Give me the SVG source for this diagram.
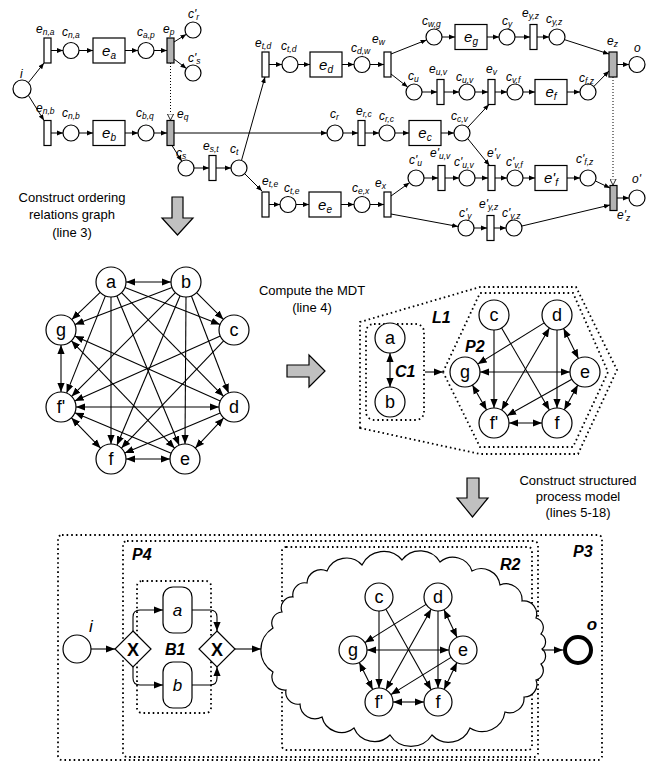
<svg xmlns="http://www.w3.org/2000/svg" width="660" height="763" viewBox="0 0 660 763">
<defs>
<style>
.p{fill:#fff;stroke:#000;stroke-width:1.2}
.tg{fill:#b3b3b3;stroke:#000;stroke-width:1.2}
.ln{fill:none;stroke:#000;stroke-width:1;marker-end:url(#as)}
.dl{fill:none;stroke:#000;stroke-width:1;stroke-dasharray:1 2;marker-end:url(#ot)}
.lb{font-family:"Liberation Sans",Arial,sans-serif;font-style:italic;font-size:12px}
.sb{font-size:8.5px}
.bx{font-family:"Liberation Sans",Arial,sans-serif;font-style:italic;font-size:15px;text-anchor:middle}
.bs{font-size:10px}
.nt{font-family:"Liberation Sans",Arial,sans-serif;font-size:18px;text-anchor:middle}
.gl{font-family:"Liberation Sans",Arial,sans-serif;font-weight:bold;font-style:italic;font-size:16px}
.cap{font-family:"Liberation Sans",Arial,sans-serif;font-size:13px;text-anchor:middle}
.dot{fill:none;stroke:#000;stroke-width:1.8;stroke-dasharray:1.6 3}
.arw{fill:#c0c0c0;stroke:#000;stroke-width:1.2}
.e{fill:none;stroke:#000;stroke-width:1.1;marker-end:url(#ah)}
.b{fill:none;stroke:#000;stroke-width:1.1;marker-end:url(#ah);marker-start:url(#ah)}
.tk{font-family:"Liberation Sans",Arial,sans-serif;font-style:italic;font-size:17px;text-anchor:middle}
</style>
<marker id="as" viewBox="0 0 10 10" refX="10" refY="5" markerWidth="6" markerHeight="6" markerUnits="userSpaceOnUse" orient="auto"><path d="M0,1 L10,5 L0,9 z"/></marker>
<marker id="ah" viewBox="0 0 10 10" refX="10" refY="5" markerWidth="9" markerHeight="9" markerUnits="userSpaceOnUse" orient="auto-start-reverse"><path d="M0,1 L10,5 L0,9 z"/></marker>
<marker id="ot" viewBox="0 0 10 10" refX="10" refY="5" markerWidth="7" markerHeight="7" markerUnits="userSpaceOnUse" orient="auto"><path d="M0.5,0.5 L9.5,5 L0.5,9.5 z" fill="#fff" stroke="#000" stroke-width="1.2"/></marker>
</defs>
<rect width="660" height="763" fill="#fff"/>

<!-- ===== Top Petri net ===== -->
<g id="net-connectors">
<path class="ln" d="M28.5,82.5 L44,63"/>
<path class="ln" d="M51,50.5 H63"/>
<path class="ln" d="M79,50.5 H93"/>
<path class="ln" d="M125,50.5 H138"/>
<path class="ln" d="M154,50.5 H167"/>
<path class="ln" d="M174,42 L186.3,34.3"/>
<path class="ln" d="M174,59 L186.4,68.5"/>
<path class="dl" d="M170.5,63 V120.5"/>
<path class="ln" d="M28.5,95.5 L44,120.5"/>
<path class="ln" d="M51,133 H63"/>
<path class="ln" d="M79,133 H93"/>
<path class="ln" d="M125,133 H138"/>
<path class="ln" d="M154,133 H167"/>
<path class="ln" d="M174,133 H327"/>
<path class="ln" d="M172,145.5 L181.8,161.2"/>
<path class="ln" d="M194,168 H209"/>
<path class="ln" d="M216,168 H231"/>
<path class="ln" d="M241.5,160.4 L265,77"/>
<path class="ln" d="M244.8,173.8 L262,191"/>
<path class="ln" d="M269,64.5 H282"/>
<path class="ln" d="M298,64.5 H310"/>
<path class="ln" d="M342,64.5 H354"/>
<path class="ln" d="M370,64.5 H384"/>
<path class="ln" d="M391,54 L426.6,39.9"/>
<path class="ln" d="M391,74 L407.7,87.1"/>
<path class="ln" d="M442,37 H455"/>
<path class="ln" d="M487,37 H499"/>
<path class="ln" d="M515,37 H530"/>
<path class="ln" d="M537,37 H549"/>
<path class="ln" d="M564.6,39.7 L609,54"/>
<path class="ln" d="M617,64.5 H629"/>
<path class="ln" d="M422,92 H437"/>
<path class="ln" d="M444,92 H459"/>
<path class="ln" d="M475,92 H488"/>
<path class="ln" d="M495,92 H507"/>
<path class="ln" d="M523,92 H535"/>
<path class="ln" d="M567,92 H580"/>
<path class="ln" d="M593.8,86.5 L609,71"/>
<path class="dl" d="M613,77 V185.5"/>
<path class="ln" d="M343,133 H358"/>
<path class="ln" d="M365,133 H379"/>
<path class="ln" d="M395,133 H409"/>
<path class="ln" d="M441,133 H454"/>
<path class="ln" d="M467.8,127.3 L489,104.5"/>
<path class="ln" d="M467.8,138.7 L489.5,165.5"/>
<path class="ln" d="M269,204.5 H280"/>
<path class="ln" d="M296,204.5 H309"/>
<path class="ln" d="M341,204.5 H354"/>
<path class="ln" d="M370,204.5 H384"/>
<path class="ln" d="M391,196 L409.5,182.7"/>
<path class="ln" d="M391,214 L458.1,226.5"/>
<path class="ln" d="M424,178 H438"/>
<path class="ln" d="M445,178 H459"/>
<path class="ln" d="M475,178 H488"/>
<path class="ln" d="M495,178 H507"/>
<path class="ln" d="M523,178 H535"/>
<path class="ln" d="M567,178 H580"/>
<path class="ln" d="M595.5,181 L610,188"/>
<path class="ln" d="M617,198 H629"/>
<path class="ln" d="M474,228 H487"/>
<path class="ln" d="M494,228 H506"/>
<path class="ln" d="M522,226 L610,205"/>
</g>

<g id="net-nodes">
<g id="p-i"><circle class="p" cx="22" cy="89" r="9"/><text class="lb" x="20" y="78">i</text></g>
<g id="t-ena"><rect class="p" x="44" y="38" width="7" height="25"/><text class="lb" x="36" y="33">e<tspan class="sb" dy="2">n,a</tspan></text></g>
<g id="p-cna"><circle class="p" cx="71" cy="50.5" r="8"/><text class="lb" x="62" y="36">c<tspan class="sb" dy="2">n,a</tspan></text></g>
<g id="b-ea"><rect class="p" x="93" y="38" width="32" height="25"/><text class="bx" x="109" y="56">e<tspan class="bs" dy="3">a</tspan></text></g>
<g id="p-cap"><circle class="p" cx="146" cy="50.5" r="8"/><text class="lb" x="137" y="36">c<tspan class="sb" dy="2">a,p</tspan></text></g>
<g id="t-ep"><rect class="tg" x="167" y="38" width="7" height="25"/><text class="lb" x="163" y="33">e<tspan class="sb" dy="2">p</tspan></text></g>
<g id="p-cr1"><circle class="p" cx="193" cy="30" r="8"/><text class="lb" x="188" y="18">c'<tspan class="sb" dy="2">r</tspan></text></g>
<g id="p-cs1"><circle class="p" cx="193" cy="73" r="8"/><text class="lb" x="188" y="62">c'<tspan class="sb" dy="2">s</tspan></text></g>

<g id="t-enb"><rect class="p" x="44" y="120.5" width="7" height="25"/><text class="lb" x="36" y="112">e<tspan class="sb" dy="2">n,b</tspan></text></g>
<g id="p-cnb"><circle class="p" cx="71" cy="133" r="8"/><text class="lb" x="62" y="117">c<tspan class="sb" dy="2">n,b</tspan></text></g>
<g id="b-eb"><rect class="p" x="93" y="120.5" width="32" height="25"/><text class="bx" x="109" y="138">e<tspan class="bs" dy="3">b</tspan></text></g>
<g id="p-cbq"><circle class="p" cx="146" cy="133" r="8"/><text class="lb" x="136" y="117">c<tspan class="sb" dy="2">b,q</tspan></text></g>
<g id="t-eq"><rect class="tg" x="167" y="120.5" width="7" height="25"/><text class="lb" x="177" y="118">e<tspan class="sb" dy="2">q</tspan></text></g>
<g id="p-cs"><circle class="p" cx="186" cy="168" r="8"/><text class="lb" x="176" y="157">c<tspan class="sb" dy="2">s</tspan></text></g>
<g id="t-est"><rect class="p" x="209" y="155.5" width="7" height="25"/><text class="lb" x="203" y="150">e<tspan class="sb" dy="2">s,t</tspan></text></g>
<g id="p-ct"><circle class="p" cx="239" cy="168" r="8"/><text class="lb" x="230" y="153">c<tspan class="sb" dy="2">t</tspan></text></g>

<g id="t-etd"><rect class="p" x="262" y="52" width="7" height="25"/><text class="lb" x="255" y="47">e<tspan class="sb" dy="2">t,d</tspan></text></g>
<g id="p-ctd"><circle class="p" cx="290" cy="64.5" r="8"/><text class="lb" x="281" y="50">c<tspan class="sb" dy="2">t,d</tspan></text></g>
<g id="b-ed"><rect class="p" x="310" y="52" width="32" height="25"/><text class="bx" x="326" y="70">e<tspan class="bs" dy="3">d</tspan></text></g>
<g id="p-cdw"><circle class="p" cx="362" cy="64.5" r="8"/><text class="lb" x="351" y="52">c<tspan class="sb" dy="2">d,w</tspan></text></g>
<g id="t-ew"><rect class="p" x="384" y="52" width="7" height="25"/><text class="lb" x="372" y="43">e<tspan class="sb" dy="2">w</tspan></text></g>
<g id="p-cwg"><circle class="p" cx="434" cy="37" r="8"/><text class="lb" x="422" y="25">c<tspan class="sb" dy="2">w,g</tspan></text></g>
<g id="b-eg"><rect class="p" x="455" y="24.5" width="32" height="25"/><text class="bx" x="471" y="42">e<tspan class="bs" dy="3">g</tspan></text></g>
<g id="p-cy"><circle class="p" cx="507" cy="37" r="8"/><text class="lb" x="502" y="25">c<tspan class="sb" dy="2">y</tspan></text></g>
<g id="t-eyz"><rect class="p" x="530" y="24.5" width="7" height="25"/><text class="lb" x="522" y="17">e<tspan class="sb" dy="2">y,z</tspan></text></g>
<g id="p-cyz"><circle class="p" cx="557" cy="37" r="8"/><text class="lb" x="546" y="23">c<tspan class="sb" dy="2">y,z</tspan></text></g>
<g id="t-ez"><rect class="tg" x="609" y="52" width="8" height="25"/><text class="lb" x="607" y="45">e<tspan class="sb" dy="2">z</tspan></text></g>
<g id="p-o"><circle class="p" cx="637" cy="64.5" r="8"/><text class="lb" x="634" y="52">o</text></g>

<g id="p-cu"><circle class="p" cx="414" cy="92" r="8"/><text class="lb" x="408" y="80">c<tspan class="sb" dy="2">u</tspan></text></g>
<g id="t-euv"><rect class="p" x="437" y="79.5" width="7" height="25"/><text class="lb" x="429" y="73">e<tspan class="sb" dy="2">u,v</tspan></text></g>
<g id="p-cuv"><circle class="p" cx="467" cy="92" r="8"/><text class="lb" x="456" y="81">c<tspan class="sb" dy="2">u,v</tspan></text></g>
<g id="t-ev"><rect class="p" x="488" y="79.5" width="7" height="25"/><text class="lb" x="486" y="73">e<tspan class="sb" dy="2">v</tspan></text></g>
<g id="p-cvf"><circle class="p" cx="515" cy="92" r="8"/><text class="lb" x="506" y="81">c<tspan class="sb" dy="2">v,f</tspan></text></g>
<g id="b-ef"><rect class="p" x="535" y="79.5" width="32" height="25"/><text class="bx" x="551" y="97">e<tspan class="bs" dy="3">f</tspan></text></g>
<g id="p-cfz"><circle class="p" cx="588" cy="92" r="8"/><text class="lb" x="579" y="82">c<tspan class="sb" dy="2">f,z</tspan></text></g>

<g id="p-cr"><circle class="p" cx="335" cy="133" r="8"/><text class="lb" x="330" y="118">c<tspan class="sb" dy="2">r</tspan></text></g>
<g id="t-erc"><rect class="p" x="358" y="120.5" width="7" height="25"/><text class="lb" x="356" y="115">e<tspan class="sb" dy="2">r,c</tspan></text></g>
<g id="p-crc"><circle class="p" cx="387" cy="133" r="8"/><text class="lb" x="379" y="120">c<tspan class="sb" dy="2">r,c</tspan></text></g>
<g id="b-ec"><rect class="p" x="409" y="120.5" width="32" height="25"/><text class="bx" x="425" y="138">e<tspan class="bs" dy="3">c</tspan></text></g>
<g id="p-ccv"><circle class="p" cx="462" cy="133" r="8"/><text class="lb" x="451" y="120">c<tspan class="sb" dy="2">c,v</tspan></text></g>

<g id="t-ete"><rect class="p" x="262" y="192" width="7" height="25"/><text class="lb" x="262" y="185">e<tspan class="sb" dy="2">t,e</tspan></text></g>
<g id="p-cte"><circle class="p" cx="288" cy="204.5" r="8"/><text class="lb" x="284" y="192">c<tspan class="sb" dy="2">t,e</tspan></text></g>
<g id="b-ee"><rect class="p" x="309" y="192" width="32" height="25"/><text class="bx" x="325" y="210">e<tspan class="bs" dy="3">e</tspan></text></g>
<g id="p-cex"><circle class="p" cx="362" cy="204.5" r="8"/><text class="lb" x="352" y="192">c<tspan class="sb" dy="2">e,x</tspan></text></g>
<g id="t-ex"><rect class="p" x="384" y="192" width="7" height="25"/><text class="lb" x="375" y="187">e<tspan class="sb" dy="2">x</tspan></text></g>

<g id="p-cu2"><circle class="p" cx="416" cy="178" r="8"/><text class="lb" x="409" y="164">c'<tspan class="sb" dy="2">u</tspan></text></g>
<g id="t-euv2"><rect class="p" x="438" y="165.5" width="7" height="25"/><text class="lb" x="430" y="157">e'<tspan class="sb" dy="2">u,v</tspan></text></g>
<g id="p-cuv2"><circle class="p" cx="467" cy="178" r="8"/><text class="lb" x="454" y="166">c'<tspan class="sb" dy="2">u,v</tspan></text></g>
<g id="t-ev2"><rect class="p" x="488" y="165.5" width="7" height="25"/><text class="lb" x="487" y="157">e'<tspan class="sb" dy="2">v</tspan></text></g>
<g id="p-cvf2"><circle class="p" cx="515" cy="178" r="8"/><text class="lb" x="506" y="166">c'<tspan class="sb" dy="2">v,f</tspan></text></g>
<g id="b-ef2"><rect class="p" x="535" y="165.5" width="32" height="25"/><text class="bx" x="551" y="183">e'<tspan class="bs" dy="3">f</tspan></text></g>
<g id="p-cfz2"><circle class="p" cx="588" cy="178" r="8"/><text class="lb" x="576" y="163">c'<tspan class="sb" dy="2">f,z</tspan></text></g>
<g id="t-ez2"><rect class="tg" x="610" y="185.5" width="7" height="25"/><text class="lb" x="617" y="219">e'<tspan class="sb" dy="2">z</tspan></text></g>
<g id="p-o2"><circle class="p" cx="637" cy="198" r="8"/><text class="lb" x="632" y="183">o'</text></g>
<g id="p-cy2"><circle class="p" cx="466" cy="228" r="8"/><text class="lb" x="459" y="217">c'<tspan class="sb" dy="2">y</tspan></text></g>
<g id="t-eyz2"><rect class="p" x="487" y="215.5" width="7" height="25"/><text class="lb" x="479" y="208">e'<tspan class="sb" dy="2">y,z</tspan></text></g>
<g id="p-cyz2"><circle class="p" cx="514" cy="228" r="8"/><text class="lb" x="502" y="217">c'<tspan class="sb" dy="2">y,z</tspan></text></g>
</g>

<!-- ===== Step arrows and captions ===== -->
<g id="step1">
<polygon class="arw" points="172,197 183,197 183,218 193,218 177.5,235 162,218 172,218"/>
<text class="cap" x="72" y="202">Construct ordering</text>
<text class="cap" x="72" y="219">relations graph</text>
<text class="cap" x="72" y="237">(line 3)</text>
</g>
<g id="step2">
<polygon class="arw" points="287,365 309,365 309,355 325,371 309,387 309,377 287,377"/>
<text class="cap" x="312" y="295">Compute the MDT</text>
<text class="cap" x="312" y="312">(line 4)</text>
</g>
<g id="step3">
<polygon class="arw" points="467,478 479,478 479,498 488,498 472.5,517 457,498 467,498"/>
<text class="cap" x="578" y="485">Construct structured</text>
<text class="cap" x="578" y="501">process model</text>
<text class="cap" x="578" y="517">(lines 5-18)</text>
</g>

<!-- ===== Ordering relations graph ===== -->
<g id="org-connectors">
<path class="b" d="M126,282 L171,282"/>
<path class="e" d="M100.2,292.4 L71.8,319.6"/>
<path class="e" d="M125,287.5 L220,324.5"/>
<path class="e" d="M105.4,295.9 L66.6,393.1"/>
<path class="e" d="M111,297 L111,444"/>
<path class="e" d="M116.8,295.8 L179.2,445.2"/>
<path class="e" d="M121.5,292.7 L223.5,396.3"/>
<path class="e" d="M172,287.4 L75,324.6"/>
<path class="e" d="M196.6,292.6 L223.4,319.4"/>
<path class="e" d="M175.4,292.6 L71.6,396.4"/>
<path class="e" d="M180.1,295.8 L116.9,445.2"/>
<path class="e" d="M186,297 L185,444"/>
<path class="e" d="M191.4,296 L228.6,393"/>
<path class="b" d="M61,345 L61,392"/>
<path class="e" d="M220.3,400.9 L74.7,336.1"/>
<path class="b" d="M71.4,340.8 L174.6,448.2"/>
<path class="e" d="M220.3,336.1 L74.7,400.9"/>
<path class="e" d="M223.6,340.9 L121.4,448.1"/>
<path class="b" d="M76,407 L219,407"/>
<path class="b" d="M71.4,417.8 L100.6,448.2"/>
<path class="e" d="M171.2,453.2 L74.8,412.8"/>
<path class="e" d="M220.2,412.9 L124.8,453.1"/>
<path class="b" d="M126,459 L170,459"/>
<path class="b" d="M223.7,417.9 L195.3,448.1"/>
</g>
<g id="org-nodes">
<g id="o-a"><circle class="p" cx="111" cy="282" r="15"/><text class="nt" x="111" y="288">a</text></g>
<g id="o-b"><circle class="p" cx="186" cy="282" r="15"/><text class="nt" x="186" y="288">b</text></g>
<g id="o-g"><circle class="p" cx="61" cy="330" r="15"/><text class="nt" x="61" y="336">g</text></g>
<g id="o-c"><circle class="p" cx="234" cy="330" r="15"/><text class="nt" x="234" y="336">c</text></g>
<g id="o-f2"><circle class="p" cx="61" cy="407" r="15"/><text class="nt" x="61" y="413">f'</text></g>
<g id="o-d"><circle class="p" cx="234" cy="407" r="15"/><text class="nt" x="234" y="413">d</text></g>
<g id="o-f"><circle class="p" cx="111" cy="459" r="15"/><text class="nt" x="111" y="465">f</text></g>
<g id="o-e"><circle class="p" cx="185" cy="459" r="15"/><text class="nt" x="185" y="465">e</text></g>
</g>

<!-- ===== MDT ===== -->
<g id="mdt-regions">
<polygon class="dot" points="360,428 360,322 480,287 576,287 617,370 578,454 480,454"/>
<polygon class="dot" points="443,372 480,293 573,293 608,372 573,447 480,447"/>
<rect class="dot" x="366" y="324" width="58" height="96" rx="8"/>
<text class="gl" x="432" y="323">L1</text>
<text class="gl" x="465" y="352">P2</text>
<text class="gl" x="395" y="377">C1</text>
</g>
<g id="mdt-connectors">
<path class="b" d="M390,353 L390,387"/>
<path class="e" d="M425,372 L443,372"/>
<path class="e" d="M494,330 L494,408"/>
<path class="e" d="M501.6,328 L549.4,410"/>
<path class="e" d="M544.2,322.9 L477.7,364.1"/>
<path class="b" d="M501.6,410 L549.4,328"/>
<path class="e" d="M557,330 L557,408"/>
<path class="b" d="M563.6,328.5 L578.4,358.5"/>
<path class="b" d="M480,372 L570,372"/>
<path class="b" d="M472.4,385 L486.6,410"/>
<path class="e" d="M571.9,379.3 L507.1,415.7"/>
<path class="b" d="M577.8,385.1 L564.2,409.9"/>
<path class="b" d="M509,423 L542,423"/>
</g>
<g id="mdt-nodes">
<g id="m-a"><circle class="p" cx="390" cy="338" r="15"/><text class="nt" x="390" y="344">a</text></g>
<g id="m-b"><circle class="p" cx="390" cy="402" r="15"/><text class="nt" x="390" y="408">b</text></g>
<g id="m-c"><circle class="p" cx="494" cy="315" r="15"/><text class="nt" x="494" y="321">c</text></g>
<g id="m-d"><circle class="p" cx="557" cy="315" r="15"/><text class="nt" x="557" y="321">d</text></g>
<g id="m-g"><circle class="p" cx="465" cy="372" r="15"/><text class="nt" x="465" y="378">g</text></g>
<g id="m-e"><circle class="p" cx="585" cy="372" r="15"/><text class="nt" x="585" y="378">e</text></g>
<g id="m-f2"><circle class="p" cx="494" cy="423" r="15"/><text class="nt" x="494" y="429">f'</text></g>
<g id="m-f"><circle class="p" cx="557" cy="423" r="15"/><text class="nt" x="557" y="429">f</text></g>
</g>

<!-- ===== Structured process model ===== -->
<g id="spm-regions">
<rect class="dot" x="58" y="535" width="544" height="225" rx="4"/>
<rect class="dot" x="123" y="541" width="415" height="216" rx="4"/>
<rect class="dot" x="282" y="547" width="250" height="203" rx="4"/>
<rect class="dot" x="137" y="581" width="74" height="132" rx="5"/>
<text class="gl" x="132" y="560">P4</text>
<text class="gl" x="500" y="570">R2</text>
<text class="gl" x="573" y="557">P3</text>
<text class="gl" x="165" y="655">B1</text>
</g>
<g id="spm-cloud">
<path class="p" d="M273,672 A26,26 0 0 1 273,628 A11,11 0 0 1 282,612 A11,11 0 0 1 293,597 A12,12 0 0 1 307,583 A14,14 0 0 1 327,571 A21,21 0 0 1 362,565 A24,24 0 0 1 402,560 A23,23 0 0 1 440,562 A20,20 0 0 1 472,571 A19,19 0 0 1 500,585 A16,16 0 0 1 522,601 A13,13 0 0 1 536,618 A10,10 0 0 1 541,634 A9,9 0 0 1 542,649 A9,9 0 0 1 541,664 A10,10 0 0 1 536,680 A12.5,12.5 0 0 1 524,697 A14.5,14.5 0 0 1 505,712 A23,23 0 0 1 470,728 A23,23 0 0 1 432,735 A25,25 0 0 1 390,735 A22,22 0 0 1 354,728 A20,20 0 0 1 322,717 A15,15 0 0 1 300,704 A12,12 0 0 1 286,690 A13,13 0 0 1 273,672 Z"/>
</g>
<g id="spm-connectors">
<path class="e" d="M91,649 L115,649"/>
<path class="e" d="M133,631 V617 Q133,610 140,610 H163"/>
<path class="e" d="M133,667 V678 Q133,685 140,685 H163"/>
<path class="e" d="M192,610 H210 Q217,610 217,617 V631"/>
<path class="e" d="M192,685 H210 Q217,685 217,678 V667"/>
<path class="e" d="M235,649 L261,649"/>
<path class="e" d="M542,650 L563,650"/>
<path class="e" d="M379,611 L379,688"/>
<path class="e" d="M385.9,609.2 L431.1,689.8"/>
<path class="e" d="M426.1,604.4 L364.9,642.6"/>
<path class="b" d="M385.9,689.8 L431.1,609.2"/>
<path class="e" d="M438,611 L438,688"/>
<path class="b" d="M444,609.7 L457,637.3"/>
<path class="b" d="M367,650 L449,650"/>
<path class="b" d="M359.3,662.5 L372.7,689.5"/>
<path class="e" d="M451.1,657.4 L390.9,694.6"/>
<path class="b" d="M456.9,662.6 L444.1,689.4"/>
<path class="b" d="M393,702 L424,702"/>
</g>
<g id="spm-nodes">
<g id="s-i"><circle class="p" cx="77" cy="649" r="14"/><text class="tk" x="91" y="632">i</text></g>
<g id="s-xs"><polygon class="p" points="133,631 151,649 133,667 115,649"/><text class="nt" x="133" y="656" font-weight="bold" font-size="17">X</text></g>
<g id="s-a"><rect class="p" x="163" y="587" width="29" height="46" rx="10"/><text class="tk" x="177.5" y="616">a</text></g>
<g id="s-b"><rect class="p" x="163" y="662" width="29" height="46" rx="10"/><text class="tk" x="177.5" y="691">b</text></g>
<g id="s-xj"><polygon class="p" points="217,631 235,649 217,667 199,649"/><text class="nt" x="217" y="656" font-weight="bold" font-size="17">X</text></g>
<g id="s-o"><circle cx="578" cy="650" r="13" fill="#fff" stroke="#000" stroke-width="4"/><text class="tk" x="592" y="630" font-weight="bold" font-size="15">o</text></g>
<g id="s-c"><circle class="p" cx="379" cy="597" r="14"/><text class="nt" x="379" y="603" font-size="17">c</text></g>
<g id="s-d"><circle class="p" cx="438" cy="597" r="14"/><text class="nt" x="438" y="603" font-size="17">d</text></g>
<g id="s-g"><circle class="p" cx="353" cy="650" r="14"/><text class="nt" x="353" y="656" font-size="17">g</text></g>
<g id="s-e"><circle class="p" cx="463" cy="650" r="14"/><text class="nt" x="463" y="656" font-size="17">e</text></g>
<g id="s-f2"><circle class="p" cx="379" cy="702" r="14"/><text class="nt" x="379" y="708" font-size="17">f'</text></g>
<g id="s-f"><circle class="p" cx="438" cy="702" r="14"/><text class="nt" x="438" y="708" font-size="17">f</text></g>
</g>
</svg>
